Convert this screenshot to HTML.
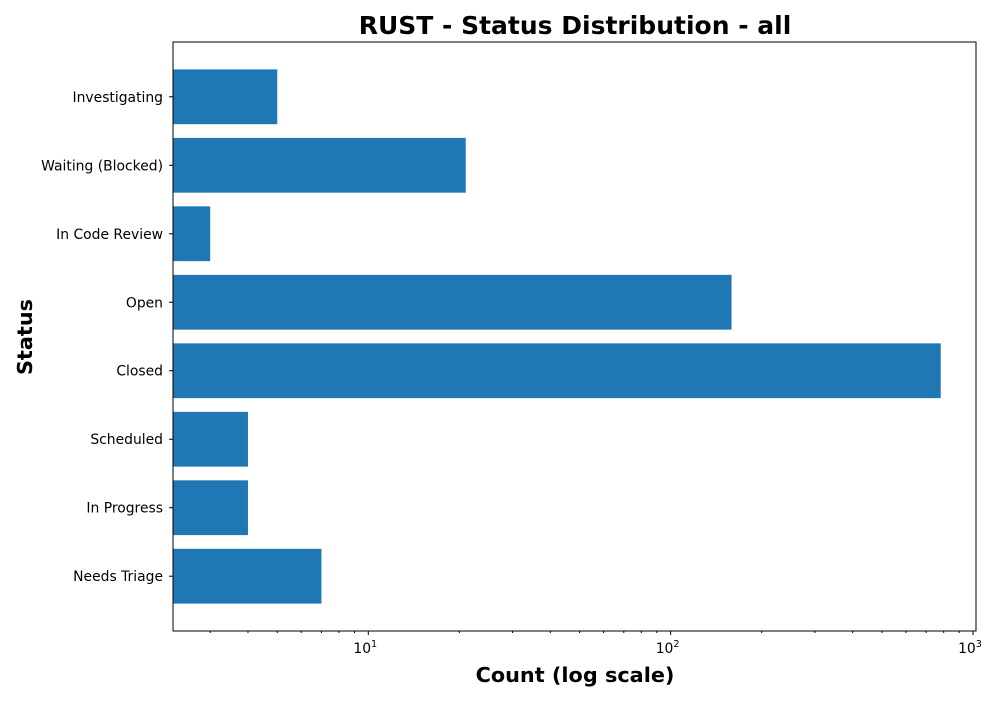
<!DOCTYPE html>
<html><head><meta charset="utf-8"><style>
body{margin:0;background:#fff;font-family:"DejaVu Sans","Liberation Sans",sans-serif}
</style></head><body>
<svg id="chart" width="1000" height="700" xmlns="http://www.w3.org/2000/svg" font-family="DejaVu Sans, Liberation Sans, sans-serif">
<rect width="1000" height="700" fill="#fff"/>
<text x="575" y="34" text-anchor="middle" font-size="25" font-weight="bold">RUST - Status Distribution - all</text>
<text x="575" y="682" text-anchor="middle" font-size="20.8" font-weight="bold">Count (log scale)</text>
<text transform="translate(32,337) rotate(-90)" text-anchor="middle" font-size="20.8" font-weight="bold">Status</text>
<g id="bars"></g><g id="ticks"></g>
<rect x="173" y="42" width="803" height="589" fill="none" stroke="#000" stroke-width="1"/>
</svg>
<script>
const categories=["Investigating","Waiting (Blocked)","In Code Review","Open","Closed","Scheduled","In Progress","Needs Triage"];
const counts=[5,21,3,159,782,4,4,7];
const xTicks=[10,100,1000];
const xTickLabels=["1","2","3"];
const L=173,R=976,T=42,B=631;
const lmin=Math.log10(2.26),lmax=Math.log10(1000)+(976-973)/302.5;
function x(v){return L+(Math.log10(v)-lmin)/(lmax-lmin)*(R-L);}
const step=(B-T)/(categories.length-1+1.6);
const ns="http://www.w3.org/2000/svg";
const bars=document.getElementById('bars'),ticks=document.getElementById('ticks');
const bh=step*0.8;
categories.forEach((c,i)=>{
 const cy=T+step*(i+0.8);
 const r=document.createElementNS(ns,'rect');
 r.setAttribute('x',L);r.setAttribute('y',cy-bh/2);r.setAttribute('width',Math.max(0,x(counts[i])-L));r.setAttribute('height',bh);r.setAttribute('fill','#1f77b4');
 
 
 bars.appendChild(r);
 const t=document.createElementNS(ns,'text');
 t.setAttribute('x',L-10);t.setAttribute('y',cy+5);t.setAttribute('text-anchor','end');t.setAttribute('font-size','13.9');t.textContent=c;
 
 
 ticks.appendChild(t);
 const l=document.createElementNS(ns,'line');
 l.setAttribute('x1',L-4);l.setAttribute('x2',L);l.setAttribute('y1',cy);l.setAttribute('y2',cy);l.setAttribute('stroke','#000');
 ticks.appendChild(l);
});
for(let d=0;d<=3;d++)for(let m=1;m<10;m++){
 const v=m*Math.pow(10,d);const px=x(v);if(px<L||px>R)continue;
 const l=document.createElementNS(ns,'line');
 l.setAttribute('x1',px);l.setAttribute('x2',px);l.setAttribute('y1',B);l.setAttribute('y2',B+(m==1?4:2));l.setAttribute('stroke','#000');
 ticks.appendChild(l);
}
xTicks.forEach((v,i)=>{
 const t=document.createElementNS(ns,'text');
 t.setAttribute('x',x(v)-3);t.setAttribute('y',B+22);t.setAttribute('text-anchor','middle');t.setAttribute('font-size','13.9');
 t.innerHTML='10<tspan dy="-6" font-size="9.7">'+xTickLabels[i]+'</tspan>';
 
 
 ticks.appendChild(t);
});
</script>
</body></html>
